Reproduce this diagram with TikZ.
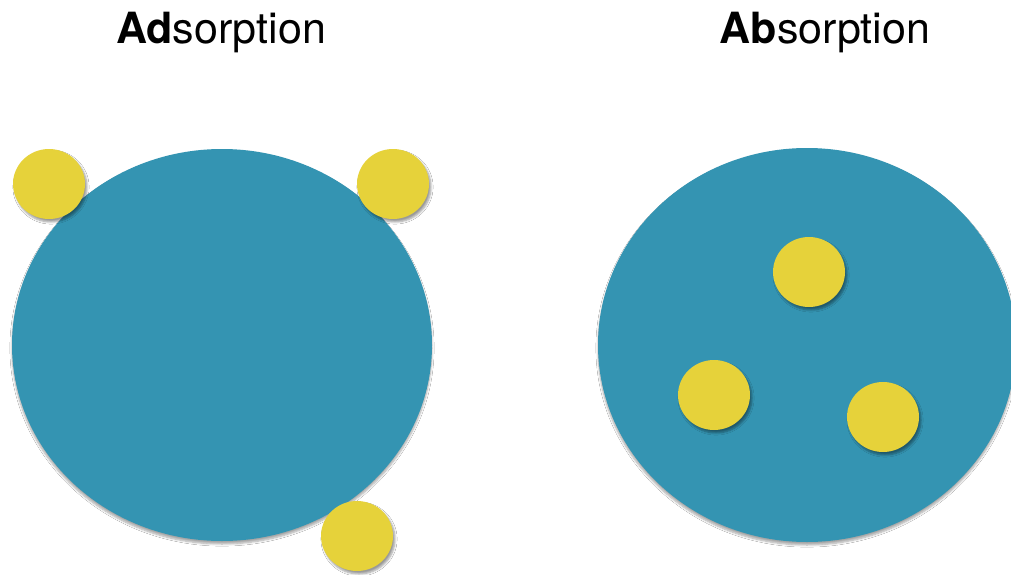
\documentclass[tikz,border=0pt]{standalone}
\usepackage{fontspec}
\setmainfont{TeX Gyre Heros}
\usetikzlibrary{shadows.blur}
\definecolor{feltBlue}{RGB}{52,148,178}
\definecolor{feltYellow}{RGB}{230,210,58}
\begin{document}
\begin{tikzpicture}[x=1pt, y=-1pt,
  title/.style={font=\fontsize{43}{48}\selectfont, anchor=base, inner sep=0pt},
  bigdisc/.style={fill=feltBlue, blur shadow={shadow xshift=0pt, shadow yshift=-3pt, shadow blur steps=6, shadow opacity=35}},
  dot/.style={fill=feltYellow, blur shadow={shadow xshift=2pt, shadow yshift=-3pt, shadow blur steps=5, shadow opacity=40}}]
% Canvas of the same size as the reference
\def\dotrx{36}
\def\dotry{35}
\useasboundingbox (0,0) rectangle (1011,575);
\fill[white] (0,0) rectangle (1011,575);
% Titles
\node[title] (adsTitle) at (221,44) {\textbf{Ad}sorption};
\node[title] (absTitle) at (825,44) {\textbf{Ab}sorption};
% Left: particles stuck on the surface
\begin{scope}
  \path[bigdisc] (222,345) ellipse [x radius=210, y radius=196];
  \path[dot] (49,184) ellipse [x radius=\dotrx, y radius=\dotry];
  \path[dot] (393,184) ellipse [x radius=\dotrx, y radius=\dotry];
  \path[dot] (357,536) ellipse [x radius=\dotrx, y radius=\dotry];
\end{scope}
% Right: particles taken inside
\begin{scope}
  \path[bigdisc] (807,345) ellipse [x radius=209, y radius=197];
  \path[dot] (809,272) ellipse [x radius=\dotrx, y radius=\dotry];
  \path[dot] (714,395) ellipse [x radius=\dotrx, y radius=\dotry];
  \path[dot] (883,417) ellipse [x radius=\dotrx, y radius=\dotry];
\end{scope}
\end{tikzpicture}
\end{document}
